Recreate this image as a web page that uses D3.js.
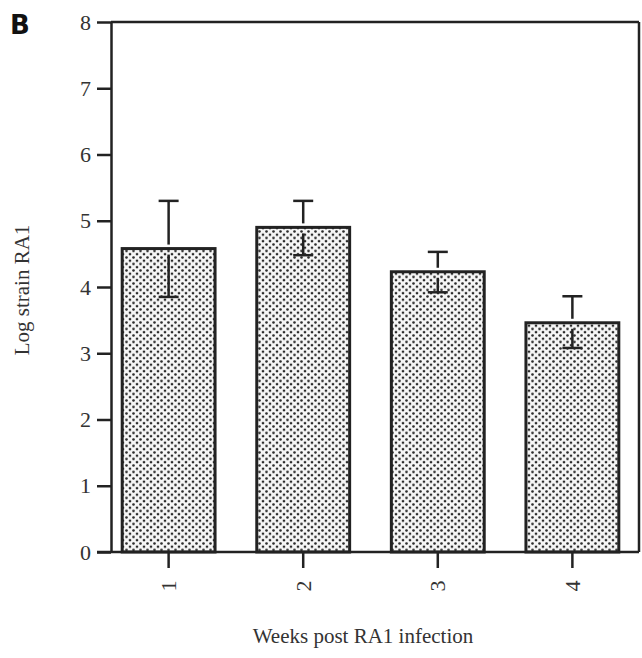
<!DOCTYPE html>
<html>
<head>
<meta charset="utf-8">
<script src="https://cdn.jsdelivr.net/npm/d3@7"></script>
<style>
body { margin: 0; background: #fff; }
svg text { font-family: "Liberation Serif", "DejaVu Serif", serif; fill: #333; }
</style>
</head>
<body>
<div id="chart"></div>
<script>
// data
var weeks = ["1", "2", "3", "4"];
var means = [4.58, 4.9, 4.23, 3.46];
var upper = [5.3, 5.3, 4.53, 3.86];
var lower = [3.85, 4.48, 3.92, 3.08];
var yTicks = [0, 1, 2, 3, 4, 5, 6, 7, 8];

var svgWidth = 642;
var svgHeight = 658;

var margin = { top: 22, right: 3, bottom: 106, left: 111 };
var cWidth = svgWidth - margin.left - margin.right;
var cHeight = svgHeight - margin.top - margin.bottom;

var svg = d3.select("#chart")
    .append("svg")
    .attr("width", svgWidth)
    .attr("height", svgHeight);

// dotted fill
var pat = svg.append("defs").append("pattern")
    .attr("id", "dots")
    .attr("patternUnits", "userSpaceOnUse")
    .attr("width", 7)
    .attr("height", 6.5);
pat.append("rect").attr("width", 7).attr("height", 6.5).attr("fill", "#f6f6f6");
pat.append("circle").attr("cx", 1.5).attr("cy", 1.5).attr("r", 1.35).attr("fill", "#2a2a2a");
pat.append("circle").attr("cx", 5).attr("cy", 4.75).attr("r", 1.35).attr("fill", "#2a2a2a");

var chartGroup = svg.append("g")
    .attr("transform", `translate(${margin.left}, ${margin.top})`);

var yScale = d3.scaleLinear()
    .domain([0, 8])
    .range([cHeight, 0]);

var xScale = d3.scaleBand()
    .domain(weeks)
    .range([-9, cWidth])
    .paddingInner(0.31)
    .paddingOuter(0.15);

// frame: top and right lines
chartGroup.append("line")
    .attr("x1", 0).attr("x2", cWidth)
    .attr("y1", 0).attr("y2", 0)
    .attr("stroke", "#222").attr("stroke-width", 2.5);
chartGroup.append("line")
    .attr("x1", cWidth).attr("x2", cWidth)
    .attr("y1", 0).attr("y2", cHeight)
    .attr("stroke", "#222").attr("stroke-width", 2.5);

// error bars (upper part, above the bar)
var errGroup = chartGroup.selectAll(".err")
    .data(weeks)
    .enter()
    .append("g")
    .attr("class", "err");

errGroup.append("line")
    .attr("x1", d => xScale(d) + xScale.bandwidth() / 2)
    .attr("x2", d => xScale(d) + xScale.bandwidth() / 2)
    .attr("y1", (d, i) => yScale(upper[i]))
    .attr("y2", (d, i) => yScale(means[i]) - 4)
    .attr("stroke", "#222").attr("stroke-width", 2.5);
errGroup.append("line")
    .attr("x1", d => xScale(d) + xScale.bandwidth() / 2 - 10)
    .attr("x2", d => xScale(d) + xScale.bandwidth() / 2 + 10)
    .attr("y1", (d, i) => yScale(upper[i]))
    .attr("y2", (d, i) => yScale(upper[i]))
    .attr("stroke", "#222").attr("stroke-width", 2.5);

// bars
chartGroup.selectAll(".bar")
    .data(weeks)
    .enter()
    .append("rect")
    .attr("class", "bar")
    .attr("x", d => xScale(d))
    .attr("width", xScale.bandwidth())
    .attr("y", (d, i) => yScale(means[i]))
    .attr("height", (d, i) => cHeight - yScale(means[i]))
    .attr("fill", "url(#dots)")
    .attr("stroke", "#222")
    .attr("stroke-width", 3);

// lower error inside bar
var lowGroup = chartGroup.selectAll(".low")
    .data(weeks)
    .enter()
    .append("g")
    .attr("class", "low");
lowGroup.append("line")
    .attr("x1", d => xScale(d) + xScale.bandwidth() / 2)
    .attr("x2", d => xScale(d) + xScale.bandwidth() / 2)
    .attr("y1", (d, i) => yScale(means[i]) + 6)
    .attr("y2", (d, i) => yScale(lower[i]))
    .attr("stroke", "#222").attr("stroke-width", 2.5);
lowGroup.append("line")
    .attr("x1", d => xScale(d) + xScale.bandwidth() / 2 - 10)
    .attr("x2", d => xScale(d) + xScale.bandwidth() / 2 + 10)
    .attr("y1", (d, i) => yScale(lower[i]))
    .attr("y2", (d, i) => yScale(lower[i]))
    .attr("stroke", "#222").attr("stroke-width", 2.5);

// axes
var leftAxis = d3.axisLeft(yScale).tickValues(yTicks).tickSize(14).tickSizeOuter(0).tickPadding(6);
var bottomAxis = d3.axisBottom(xScale).tickSize(16).tickSizeOuter(0).tickPadding(8);

var yAx = chartGroup.append("g").call(leftAxis);
yAx.select(".domain").attr("stroke", "#222").attr("stroke-width", 2.5);
yAx.selectAll(".tick line").attr("stroke", "#222").attr("stroke-width", 2.5);
yAx.selectAll(".tick text")
    .attr("font-size", 22)
    .attr("font-family", "Liberation Serif")
    .attr("fill", "#333");

var xAx = chartGroup.append("g")
    .attr("transform", `translate(0, ${cHeight})`)
    .call(bottomAxis);
xAx.select(".domain").attr("d", `M-14,0H${cWidth}`).attr("stroke", "#222").attr("stroke-width", 2.5);
xAx.selectAll(".tick line").attr("stroke", "#222").attr("stroke-width", 2.5);
xAx.selectAll(".tick text")
    .attr("font-size", 22)
    .attr("font-family", "Liberation Serif")
    .attr("fill", "#333")
    .attr("transform", "rotate(-90)")
    .attr("text-anchor", "middle")
    .attr("x", -34)
    .attr("y", 0)
    .attr("dy", "0.35em");

// axis titles
svg.append("text")
    .attr("transform", "rotate(-90)")
    .attr("x", -290)
    .attr("y", 29)
    .attr("text-anchor", "middle")
    .attr("font-size", 21)
    .text("Log strain RA1");

svg.append("text")
    .attr("x", 363)
    .attr("y", 643)
    .attr("text-anchor", "middle")
    .attr("font-size", 21)
    .text("Weeks post RA1 infection");

svg.append("text")
    .attr("x", 10)
    .attr("y", 34)
    .attr("font-size", 26)
    .attr("font-weight", "bold")
    .style("font-family", "DejaVu Sans")
    .style("fill", "#111")
    .text("B");
</script>
</body>
</html>
